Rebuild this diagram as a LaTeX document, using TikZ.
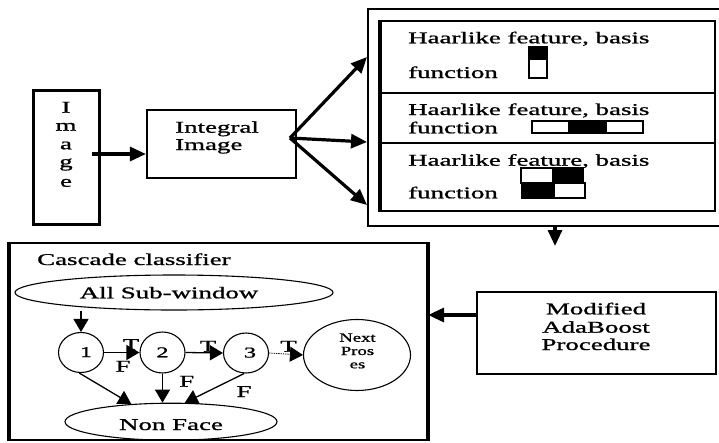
\documentclass[tikz,border=0pt]{standalone}
\usepackage{graphicx}
\usepackage{fontspec}
\setmainfont{Liberation Serif}[FakeBold=0.9]
\usetikzlibrary{arrows.meta,shapes.geometric}
% wide lettering used throughout the figure
\newcommand{\hstretch}[1]{\scalebox{1.63}[1]{#1}}
\begin{document}
\begin{tikzpicture}[x=1pt,y=-1pt,
  txt/.style={inner sep=0pt, font=\fontsize{16.5}{18}\selectfont},
  digit/.style={inner sep=0pt, font=\fontsize{15}{15}\selectfont},
  small/.style={inner sep=0pt, font=\fontsize{12.5}{13}\selectfont},
  box/.style={draw, line width=2.2pt, inner sep=0pt},
  rowbox/.style={draw, line width=1.8pt, inner sep=0pt, minimum width=334pt},
  oval/.style={draw, ellipse, line width=1.1pt, inner sep=0pt},
  thk/.style={line width=3.2pt, -{Triangle[length=16pt,width=14pt]}},
  carr/.style={line width=1.3pt, -{Triangle[length=13pt,width=15pt]}},
  feat/.style={line width=1.8pt},
]
\useasboundingbox (0,0) rectangle (719,442);

% ---- input image ----
\node[box, line width=3pt, minimum width=66pt, minimum height=134pt] (img) at (66,157) {};
\foreach \c/\y [count=\i] in {I/112.7, m/130.7, a/149.3, g/167, e/186.7}
  \node[txt, anchor=base] (imgl\i) at (66,\y) {\hstretch{\c}};

% ---- integral image ----
\node[box, minimum width=149pt, minimum height=68pt] (integ) at (221.5,144) {};
\node[txt, anchor=base west] (integ1) at (175,132.7) {\hstretch{Integral}};
\node[txt, anchor=base west] (integ2) at (175,150) {\hstretch{Image}};

\coordinate (imgtap) at (92,154);
\draw[thk] (imgtap) -- (integ.west |- imgtap);

% ---- Haar-like feature panel ----
\node[box, line width=2pt, minimum width=372pt, minimum height=217pt] (outer) at (554,117.5) {};
\node[rowbox, minimum height=72pt] (row1) at (548,57) {};
\node[rowbox, minimum height=50pt] (row2) at (548,118) {};
\node[rowbox, minimum height=68pt] (row3) at (548,177) {};
\draw[line width=3.5pt] (row1.north west) -- (row3.south west);

\node[txt, anchor=base west] (h1a) at (408,43.3) {\hstretch{Haarlike feature, basis}};
\node[txt, anchor=base west] (h1b) at (408,78) {\hstretch{function}};
\node[txt, anchor=base west] (h2a) at (408,115) {\hstretch{Haarlike feature, basis}};
\node[txt, anchor=base west] (h2b) at (408,133.3) {\hstretch{function}};
\node[txt, anchor=base west] (h3a) at (408,165.7) {\hstretch{Haarlike feature, basis}};
\node[txt, anchor=base west] (h3b) at (408,198.3) {\hstretch{function}};

% two-rectangle (vertical) feature
\fill (529,47) rectangle (547,60);
\draw[feat] (529,47) rectangle (547,78);
% three-rectangle feature
\fill (568,121) rectangle (607,133);
\draw[feat] (532,121) rectangle (643,133);
% four-rectangle feature
\fill (552,168) rectangle (583,183);
\draw[feat] (521,168) rectangle (583,183);
\fill (522,183) rectangle (555,198);
\draw[feat] (522,183) rectangle (585,198);

% integral image feeds every feature row
\coordinate (hub) at (290,138);
\draw[thk] (hub) -- (outer.west |- 0,57);
\draw[thk] (hub) -- (outer.west |- 0,142);
\draw[thk] (hub) -- (outer.west |- 0,205);

\coordinate (dn) at (555,246);
\draw[thk] (outer.south -| dn) -- (dn);

% ---- cascade classifier ----
\node[box, minimum width=417pt, minimum height=197pt] (casc) at (218.5,341.5) {};
\draw[line width=3.5pt] (casc.north west) -- (casc.south west);
\draw[line width=3pt] (casc.north east) -- (casc.south east);

\node[txt, anchor=base west] (ctitle) at (37,265) {\hstretch{Cascade classifier}};

\node[oval, minimum width=318pt, minimum height=35pt] (allsub) at (174,292.5) {};
\node[txt, anchor=base] (allsubt) at (169,298.3) {\hstretch{All Sub-window}};

\node[oval, minimum width=45pt, minimum height=40pt] (c1) at (81,352.5) {};
\node[oval, minimum width=45pt, minimum height=41pt] (c2) at (162.5,352.5) {};
\node[oval, minimum width=45pt, minimum height=40pt] (c3) at (246,353) {};
\node[digit, anchor=base] (c1t) at (86,357) {\hstretch{1}};
\node[digit, anchor=base] (c2t) at (162.5,357.3) {\hstretch{2}};
\node[digit, anchor=base] (c3t) at (250,357.5) {\hstretch{3}};

\node[oval, minimum width=107pt, minimum height=71pt] (next) at (357,355) {};
\node[small, anchor=base] (next1) at (357.5,341.7) {\scalebox{1.5}[1]{Next}};
\node[small, anchor=base] (next2) at (357.5,355) {\scalebox{1.5}[1]{Pros}};
\node[small, anchor=base] (next3) at (357.5,368.3) {\scalebox{1.5}[1]{es}};

\node[oval, minimum width=212pt, minimum height=37pt] (nonface) at (171,421.7) {};
\node[txt, anchor=base] (nonfacet) at (171,430) {\hstretch{Non Face}};

\draw[carr] (c1.north |- allsub.south) -- (c1.north);
\draw[carr] (c1.east) -- (c2.west);
\draw[carr] (c2.east) -- (c3.west);
\draw[carr, densely dotted, line width=0.8pt] (c3.east) -- (next.west);
\draw[carr] (c1.-95) -- (nonface.156);
\draw[carr] (c2.south) -- (c2.south |- nonface.north);
\draw[carr] (c3.-95) -- (nonface.54);

\node[txt, anchor=base] (t1) at (131,350) {\hstretch{T}};
\node[txt, anchor=base] (t2) at (208,351.7) {\hstretch{T}};
\node[txt, anchor=base] (t3) at (288.5,351.7) {\hstretch{T}};
\node[txt, anchor=base] (f1) at (123,371.7) {\hstretch{F}};
\node[txt, anchor=base] (f2) at (186.7,386.7) {\hstretch{F}};
\node[txt, anchor=base] (f3) at (244,397) {\hstretch{F}};

% ---- boosting procedure ----
\node[box, minimum width=239pt, minimum height=82pt] (ada) at (596.5,333) {};
\node[txt, anchor=base] (ada1) at (596,314.3) {\hstretch{Modified}};
\node[txt, anchor=base] (ada2) at (596,332.7) {\hstretch{AdaBoost}};
\node[txt, anchor=base] (ada3) at (596,350) {\hstretch{Procedure}};
\draw[thk] (ada.west |- 0,315) -- (casc.east |- 0,315);
\end{tikzpicture}
\end{document}
